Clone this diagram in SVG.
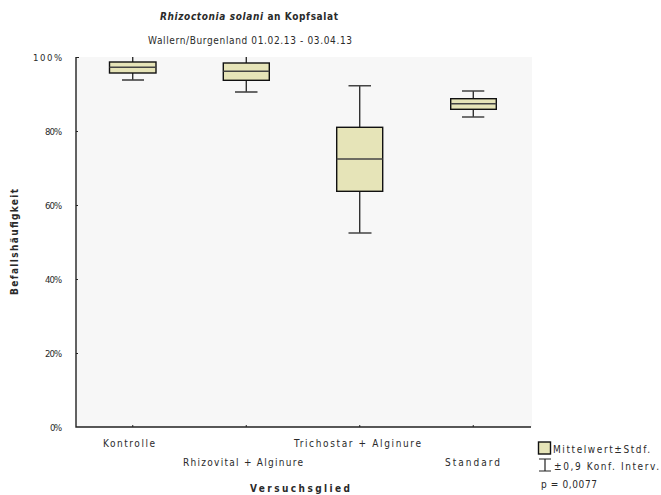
<svg xmlns="http://www.w3.org/2000/svg" width="661" height="495" viewBox="0 0 661 495">
<style>
text{font-family:"Liberation Sans Narrow","DejaVu Sans Condensed","Liberation Sans",Arial,sans-serif;font-stretch:condensed;fill:#2a2a2a;}
.t{font-size:10px;font-weight:bold;}
.s{font-size:10px;}
.y{font-size:9.5px;text-anchor:end;}
.x{font-size:10px;}
.box{fill:#e6e4b8;stroke:#111;stroke-width:1.4;}
.med{stroke:#444;stroke-width:1.4;}
.wh{stroke:#111;stroke-width:1.2;fill:none;}
.cap{stroke:#444;stroke-width:1.6;}
.ax{stroke:#222;stroke-width:1.4;fill:none;}
</style>
<rect width="661" height="495" fill="#fff"/>
<rect x="76" y="57" width="456" height="370" fill="#f7f7f7"/>
<g id="title">
<text class="t" x="160" y="20" textLength="178" lengthAdjust="spacing"><tspan font-style="italic">Rhizoctonia solani</tspan> an Kopfsalat</text>
<text class="s" x="148" y="44" textLength="204" lengthAdjust="spacing">Wallern/Burgenland 01.02.13 - 03.04.13</text>
</g>
<g id="axes">
<path class="ax" d="M76,57 V427 H531"/>
<path stroke="#222" stroke-width="1" d="M76,57.5 h3 M76,131.5 h2 M76,205.5 h2 M76,279.5 h2 M76,353.5 h2 M132.75,427 v-2 M246.25,427 v-2 M359.75,427 v-2 M473.25,427 v-2"/>
<text class="y" x="62" y="61" textLength="29" lengthAdjust="spacing">100%</text>
<text class="y" x="62" y="135" textLength="17" lengthAdjust="spacing">80%</text>
<text class="y" x="62" y="209" textLength="17" lengthAdjust="spacing">60%</text>
<text class="y" x="62" y="283" textLength="17" lengthAdjust="spacing">40%</text>
<text class="y" x="62" y="357" textLength="17" lengthAdjust="spacing">20%</text>
<text class="y" x="62" y="431" textLength="12" lengthAdjust="spacing">0%</text>
<text class="t" transform="translate(18,295) rotate(-90)" x="0" y="0" textLength="106" lengthAdjust="spacing">Befallshäufigkeit</text>
<text class="x" x="103" y="447" textLength="52" lengthAdjust="spacing">Kontrolle</text>
<text class="x" x="183" y="466" textLength="120" lengthAdjust="spacing">Rhizovital + Alginure</text>
<text class="x" x="294" y="447" textLength="127" lengthAdjust="spacing">Trichostar + Alginure</text>
<text class="x" x="445" y="466" textLength="55" lengthAdjust="spacing">Standard</text>
<text class="t" x="250" y="492" textLength="100" lengthAdjust="spacing">Versuchsglied</text>
</g>
<g id="connectors">
<path class="wh" d="M132.75,57 V62 M132.75,73 V80"/>
<path class="wh" d="M246.25,57 V63 M246.25,80 V92"/>
<path class="wh" d="M359.75,86 V127 M359.75,191 V233"/>
<path class="wh" d="M473.25,91 V99 M473.25,109 V117"/>
</g>
<g id="kontrolle">
<path class="cap" d="M122,80 H144"/>
<rect class="box" x="109.5" y="62" width="46.5" height="11"/>
<path class="med" d="M109.5,67.3 H156"/>
</g>
<g id="rhizovital">
<path class="cap" d="M235,92 H257.5"/>
<rect class="box" x="223.3" y="63" width="46" height="17.3"/>
<path class="med" d="M223.3,71.3 H269.3"/>
</g>
<g id="trichostar">
<path class="cap" d="M348.5,85.7 H371 M348.5,233 H371.5"/>
<rect class="box" x="336.7" y="127.3" width="46" height="64"/>
<path class="med" d="M336.7,159 H382.7"/>
</g>
<g id="standard">
<path class="cap" d="M462,91 H484.3 M462,117 H484.3"/>
<rect class="box" x="450.7" y="98.7" width="45.6" height="10.6"/>
<path class="med" d="M450.7,103.7 H496.3"/>
</g>
<g id="legend">
<rect class="box" x="538.5" y="442" width="12" height="12"/>
<text class="x" x="553" y="453" textLength="97" lengthAdjust="spacing">Mittelwert±Stdf.</text>
<path stroke="#222" stroke-width="1.2" d="M539,459 H551 M545,459 V471 M539,471 H551"/>
<text class="x" x="554" y="470" textLength="105" lengthAdjust="spacing">±0,9 Konf. Interv.</text>
<text class="x" x="541" y="488" textLength="56" lengthAdjust="spacing">p = 0,0077</text>
</g>
</svg>
